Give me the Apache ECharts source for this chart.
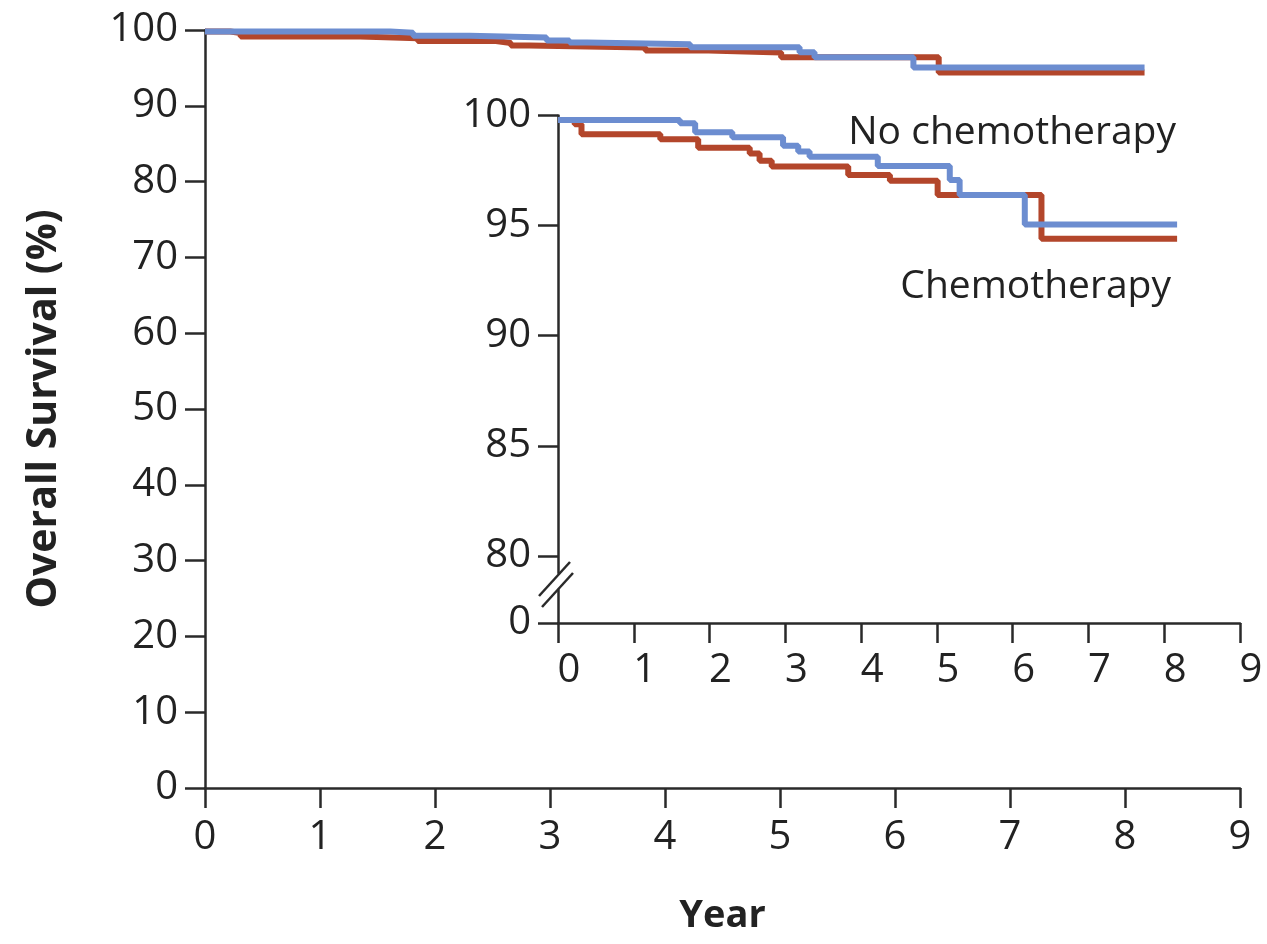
<!DOCTYPE html>
<html>
<head>
<meta charset="utf-8">
<script src="https://cdn.jsdelivr.net/npm/echarts@6/dist/echarts.min.js"></script>
<style>
html,body{margin:0;padding:0;background:#fff;}
#chart{width:1267px;height:944px;}
</style>
</head>
<body>
<div id="chart"></div>
<script>
// Kaplan-Meier step data: [year, survival %]
var noChemoTimes  = [0, 1.61, 1.81, 2.30, 2.97, 3.17, 3.32, 4.22, 5.17, 5.30, 6.16, 8.17];
var noChemoSurv   = [99.8, 99.65, 99.24, 99.01, 98.63, 98.36, 98.13, 97.71, 97.07, 96.39, 95.05, 95.05];
var chemoTimes    = [0, 0.22, 0.31, 1.35, 1.85, 2.53, 2.66, 2.82, 3.83, 4.38, 5.01, 6.38, 8.17];
var chemoSurv     = [99.8, 99.6, 99.15, 98.92, 98.54, 98.28, 97.94, 97.68, 97.30, 97.04, 96.39, 94.4, 94.4];

var mainYTicks  = [0, 10, 20, 30, 40, 50, 60, 70, 80, 90, 100];
var insetYTicks = [80, 85, 90, 95, 100];
var xTicks      = [0, 1, 2, 3, 4, 5, 6, 7, 8, 9];

var labelNo = 'No chemotherapy';
var labelChemo = 'Chemotherapy';
var xTitle = 'Year';
var yTitle = 'Overall Survival (%)';

var BLUE = '#6c8dd0', RED = '#b3462b', AX = '#2a2a2a';
var FONT = 'Open Sans';

function pairs(t, s){ return t.map(function(v,i){ return [v, s[i]]; }); }

var axisLineStyle = {lineStyle:{color:AX,width:2.5}};
var tickStyle = {show:true, inside:false, length:20, lineStyle:{color:AX,width:2.5}};
var lblStyle = {color:'#222', fontFamily:FONT, fontSize:40};

var chart = echarts.init(document.getElementById('chart'), null, {renderer:'canvas'});
chart.setOption({
  animation:false,
  backgroundColor:'#fff',
  grid:[
    {left:205, top:30, width:1035, height:758},
    {left:558, top:115.5, width:682, height:457.5},
    {left:558, top:590, width:682, height:33}
  ],
  xAxis:[
    {gridIndex:0, type:'value', min:0, max:9, interval:1,
     axisLine:axisLineStyle, axisTick:tickStyle, splitLine:{show:false},
     axisLabel:Object.assign({margin:30}, lblStyle),
     name:xTitle, nameLocation:'middle', nameGap:109,
     nameTextStyle:{fontFamily:FONT, fontWeight:'bold', fontSize:38, color:'#222'}},
    {gridIndex:1, type:'value', min:0, max:9, show:false},
    {gridIndex:2, type:'value', min:0, max:9, interval:1,
     axisLine:axisLineStyle, axisTick:tickStyle, splitLine:{show:false},
     axisLabel:Object.assign({margin:28, padding:[0,0,0,22]}, lblStyle)}
  ],
  yAxis:[
    {gridIndex:0, type:'value', min:0, max:100, interval:10,
     axisLine:{show:true, lineStyle:{color:AX,width:2.5}}, axisTick:tickStyle, splitLine:{show:false},
     axisLabel:Object.assign({margin:27}, lblStyle),
     name:yTitle, nameLocation:'middle', nameGap:140,
     nameTextStyle:{fontFamily:FONT, fontWeight:'bold', fontSize:41, color:'#222'}},
    {gridIndex:1, type:'value', min:100 - 457.5/22.025, max:100,
     axisLine:{show:true, lineStyle:{color:AX,width:2.5}},
     axisTick:Object.assign({customValues:insetYTicks}, tickStyle),
     splitLine:{show:false},
     axisLabel:Object.assign({margin:27, customValues:insetYTicks}, lblStyle)},
    {gridIndex:2, type:'value', min:0, max:1,
     axisLine:{show:true, lineStyle:{color:AX,width:2.5}},
     axisTick:Object.assign({customValues:[0]}, tickStyle),
     splitLine:{show:false},
     axisLabel:Object.assign({margin:27, customValues:[0]}, lblStyle)}
  ],
  series:[
    {type:'line', xAxisIndex:0, yAxisIndex:0, step:'end', symbol:'none', data:pairs(chemoTimes, chemoSurv), lineStyle:{color:RED,width:6}},
    {type:'line', xAxisIndex:0, yAxisIndex:0, step:'end', symbol:'none', data:pairs(noChemoTimes, noChemoSurv), lineStyle:{color:BLUE,width:6}},
    {type:'line', xAxisIndex:1, yAxisIndex:1, step:'end', symbol:'none', data:pairs(chemoTimes, chemoSurv), lineStyle:{color:RED,width:6}},
    {type:'line', xAxisIndex:1, yAxisIndex:1, step:'end', symbol:'none', data:pairs(noChemoTimes, noChemoSurv), lineStyle:{color:BLUE,width:6}}
  ],
  graphic:[
    {type:'text', right:1267-1176, top:113, style:{text:labelNo, font:'39px "Open Sans"', fill:'#222'}},
    {type:'text', right:1267-1171, top:267, style:{text:labelChemo, font:'39px "Open Sans"', fill:'#222'}},
    {type:'line', shape:{x1:539, y1:596, x2:570, y2:562}, style:{stroke:AX, lineWidth:2.5}},
    {type:'line', shape:{x1:542, y1:607, x2:573, y2:573}, style:{stroke:AX, lineWidth:2.5}}
  ]
});
</script>
</body>
</html>
